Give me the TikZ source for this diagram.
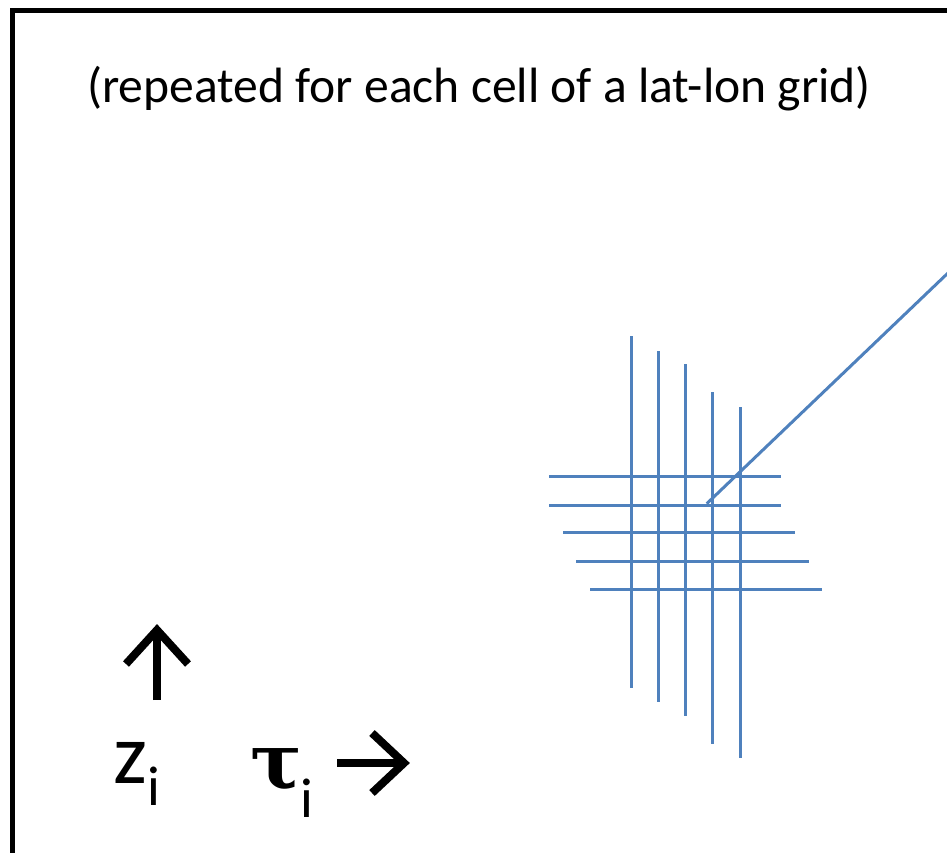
\documentclass[tikz,border=0pt]{standalone}
\usepackage{fontspec}
\setmainfont{Carlito}
\newfontfamily\taufont{DejaVu Serif}
\definecolor{gridblue}{RGB}{79,129,189}
\begin{document}
\begin{tikzpicture}[x=1pt,y=-1pt,
  gridline/.style={draw=gridblue,line width=3pt},
  frameline/.style={draw=black,line width=5pt},
  arrowline/.style={draw=black,line width=8pt,line join=miter},
  lbl/.style={inner sep=0pt,anchor=base west}]
\useasboundingbox (0,0) rectangle (947,852);
\begin{scope}
\clip (0,0) rectangle (947,852);
% frame
\coordinate (ftr) at (960,10);
\coordinate (ftl) at (12.5,10);
\coordinate (fbl) at (12.5,870);
\draw[frameline] (ftr) -- (ftl) -- (fbl);
% title
\node[lbl] (title) at (87,102) {\fontsize{49.6}{60}\selectfont (repeated for each cell of a lat-lon grid)};
% vertical grid lines
\foreach \n/\x/\a/\b in {1/631/336/688, 2/658.3/351/702, 3/685.7/364/716, 4/712.7/392/744, 5/740.3/407/758}{
  \coordinate (vt\n) at (\x,\a);
  \coordinate (vb\n) at (\x,\b);
  \draw[gridline] (vt\n) -- (vb\n);
}
% horizontal grid lines
\foreach \n/\y/\a/\b in {1/476.7/549/781, 2/505/549/781, 3/532.7/563/795, 4/561/576.3/808.7, 5/589/590/822.3}{
  \coordinate (hl\n) at (\a,\y);
  \coordinate (hr\n) at (\b,\y);
  \draw[gridline] (hl\n) -- (hr\n);
}
% diagonal
\coordinate (dstart) at (706.7,503.7);
\coordinate (dend) at (960,261.5);
\draw[gridline] (dstart) -- (dend);
\end{scope}
% z_i and arrow up
\node[lbl] (zlab) at (113,783) {\fontsize{86}{90}\selectfont z\raisebox{-22pt}{\fontsize{56}{60}\selectfont i}};
\coordinate (ua0) at (157,700);
\coordinate (ua1) at (157,632);
\coordinate (uatip) at (157,630);
\coordinate (ual) at (126,664);
\coordinate (uar) at (188,664);
\draw[arrowline] (ua0) -- (ua1);
\draw[arrowline] (ual) -- (uatip) -- (uar);
% tau_i and arrow right
\node[lbl] (taulab) at (250,788) {{\fontsize{77}{80}\taufont\bfseries\selectfont τ}\hspace{-2pt}\raisebox{-29pt}{\fontsize{56}{60}\selectfont i}};
\coordinate (ra0) at (337,763);
\coordinate (ra1) at (403,763);
\coordinate (ratip) at (404,763);
\coordinate (rat) at (372,733);
\coordinate (rab) at (372,793);
\draw[arrowline] (ra0) -- (ra1);
\draw[arrowline] (rat) -- (ratip) -- (rab);
\end{tikzpicture}
\end{document}
